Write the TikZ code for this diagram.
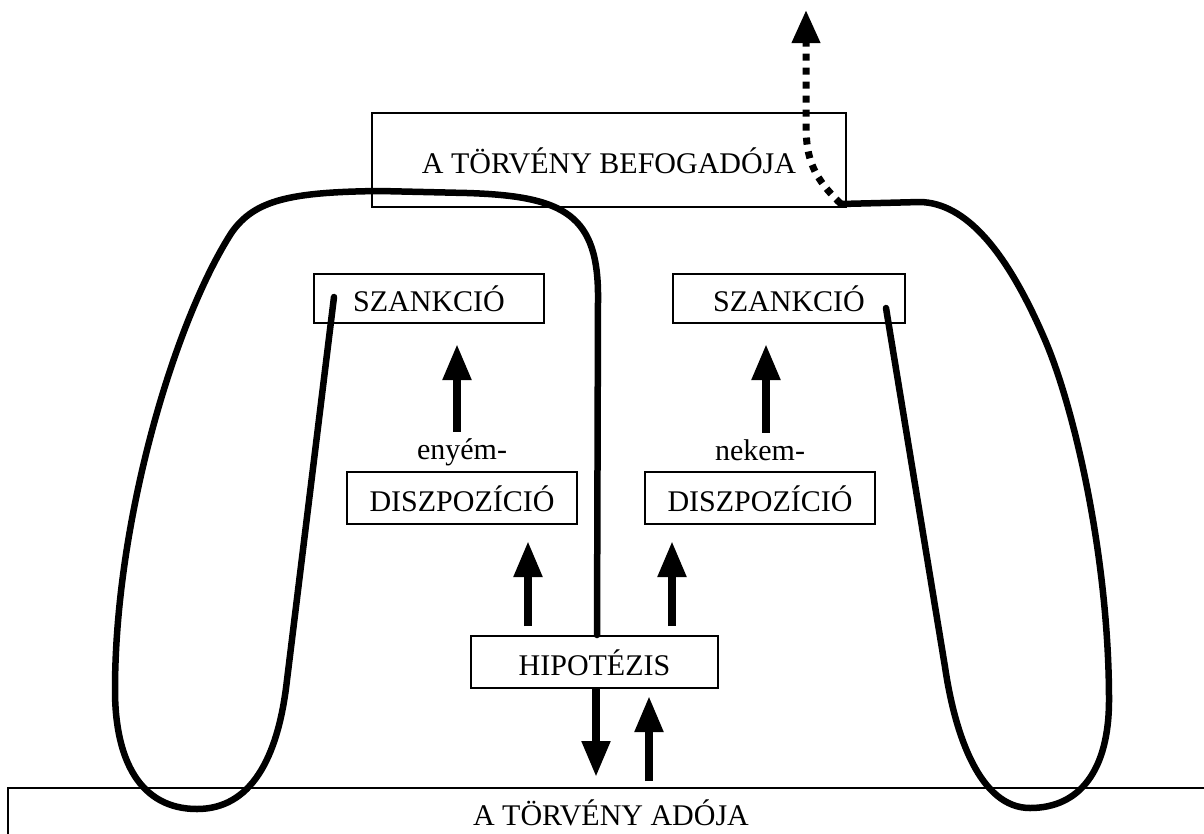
\documentclass[tikz,border=0pt]{standalone}
\usepackage{fontspec}
\setmainfont{Liberation Serif}
\usetikzlibrary{arrows.meta,calc}
\begin{document}
\begin{tikzpicture}[x=1pt,y=-1pt,
  box/.style={draw, line width=2pt, inner sep=0pt, text height=26pt, text depth=0pt, font=\fontsize{30}{36}\selectfont},
  lbl/.style={inner sep=0pt, font=\fontsize{30}{36}\selectfont},
  arr/.style={line width=8pt, -{Triangle[length=36pt,width=27pt]}},
  curveline/.style={line width=6.5pt, line cap=round, line join=round},
  dotarrow/.style={line width=7pt, dash pattern=on 7pt off 7pt, -{Triangle[length=33pt,width=27pt]}}]
\useasboundingbox (0,0) rectangle (1204,833);
% boxes
\node[box, minimum width=474pt, minimum height=94pt] (rec) at (609,160) {A TÖRVÉNY BEFOGADÓJA};
\node[box, minimum width=230pt, minimum height=49pt] (lsz) at (429,298.5) {SZANKCIÓ};
\node[box, minimum width=232pt, minimum height=49pt] (rsz) at (789,298.5) {SZANKCIÓ};
\node[box, minimum width=230pt, minimum height=52pt] (ldi) at (462,498) {DISZPOZÍCIÓ};
\node[box, minimum width=230pt, minimum height=52pt] (rdi) at (760,498) {DISZPOZÍCIÓ};
\node[box, minimum width=247pt, minimum height=52pt] (hip) at (594.5,662) {HIPOTÉZIS};
\node[box, minimum width=1206pt, minimum height=48pt] (ado) at (611,812) {A TÖRVÉNY ADÓJA};
% labels
\node[lbl, anchor=base] (enyem) at (462,459) {enyém-};
\node[lbl, anchor=base] (nekem) at (760,460) {nekem-};
% arrow end points
\coordinate (a1s) at ($(enyem.north)+(-5,-6)$);
\coordinate (a1e) at ($(enyem.north |- lsz.south)+(-5,20)$);
\coordinate (a2s) at ($(nekem.north)+(6,-6)$);
\coordinate (a2e) at ($(nekem.north |- rsz.south)+(6,20)$);
\coordinate (a3s) at ($(hip.north)+(-66.5,-9)$);
\coordinate (a3e) at ($(a3s |- ldi.south)+(0,16)$);
\coordinate (a4s) at ($(hip.north)+(77.5,-9)$);
\coordinate (a4e) at ($(a4s |- rdi.south)+(0,16)$);
\coordinate (a5s) at ($(hip.south)+(1.5,0)$);
\coordinate (a5e) at ($(a5s |- ado.north)+(0,-10)$);
\coordinate (a6s) at ($(hip.south |- ado.north)+(54.5,-6)$);
\coordinate (a6e) at ($(hip.south)+(54.5,7)$);
% straight arrows
\draw[arr] (a1s) -- (a1e);
\draw[arr] (a2s) -- (a2e);
\draw[arr] (a3s) -- (a3e);
\draw[arr] (a4s) -- (a4e);
\draw[arr] (a5s) -- (a5e);
\draw[arr] (a6s) -- (a6e);
% left loop
\coordinate (ls) at ($(lsz.west)+(21,-1.5)$);
\coordinate (le) at ($(hip.north)+(2.5,0)$);
\draw[curveline] (ls) -- (287,680)
  .. controls (278,760) and (250,809) .. (197,809)
  .. controls (140,809) and (115,760) .. (115,690)
  .. controls (115,520) and (175,320) .. (232,232)
  .. controls (255,200) and (290,192) .. (380,191)
  -- (467,193)
  .. controls (565,196) and (599,215) .. (598,300)
  -- (le);
% right loop
\coordinate (rs) at ($(rsz.east)+(-20,9.5)$);
\coordinate (re) at ($(rec.south east)+(-6,-4)$);
\draw[curveline] (rs) -- (945,667)
  .. controls (955,735) and (980,808) .. (1030,808)
  .. controls (1080,808) and (1109,770) .. (1109,700)
  .. controls (1109,560) and (1075,410) .. (1045,340)
  .. controls (1006,249) and (965,203) .. (920,202)
  -- (re);
% dotted arrow
\coordinate (out) at (806,10);
\draw[dotarrow] (re) .. controls (814,178) and (806,160) .. (806,125) -- (out);
\end{tikzpicture}
\end{document}
